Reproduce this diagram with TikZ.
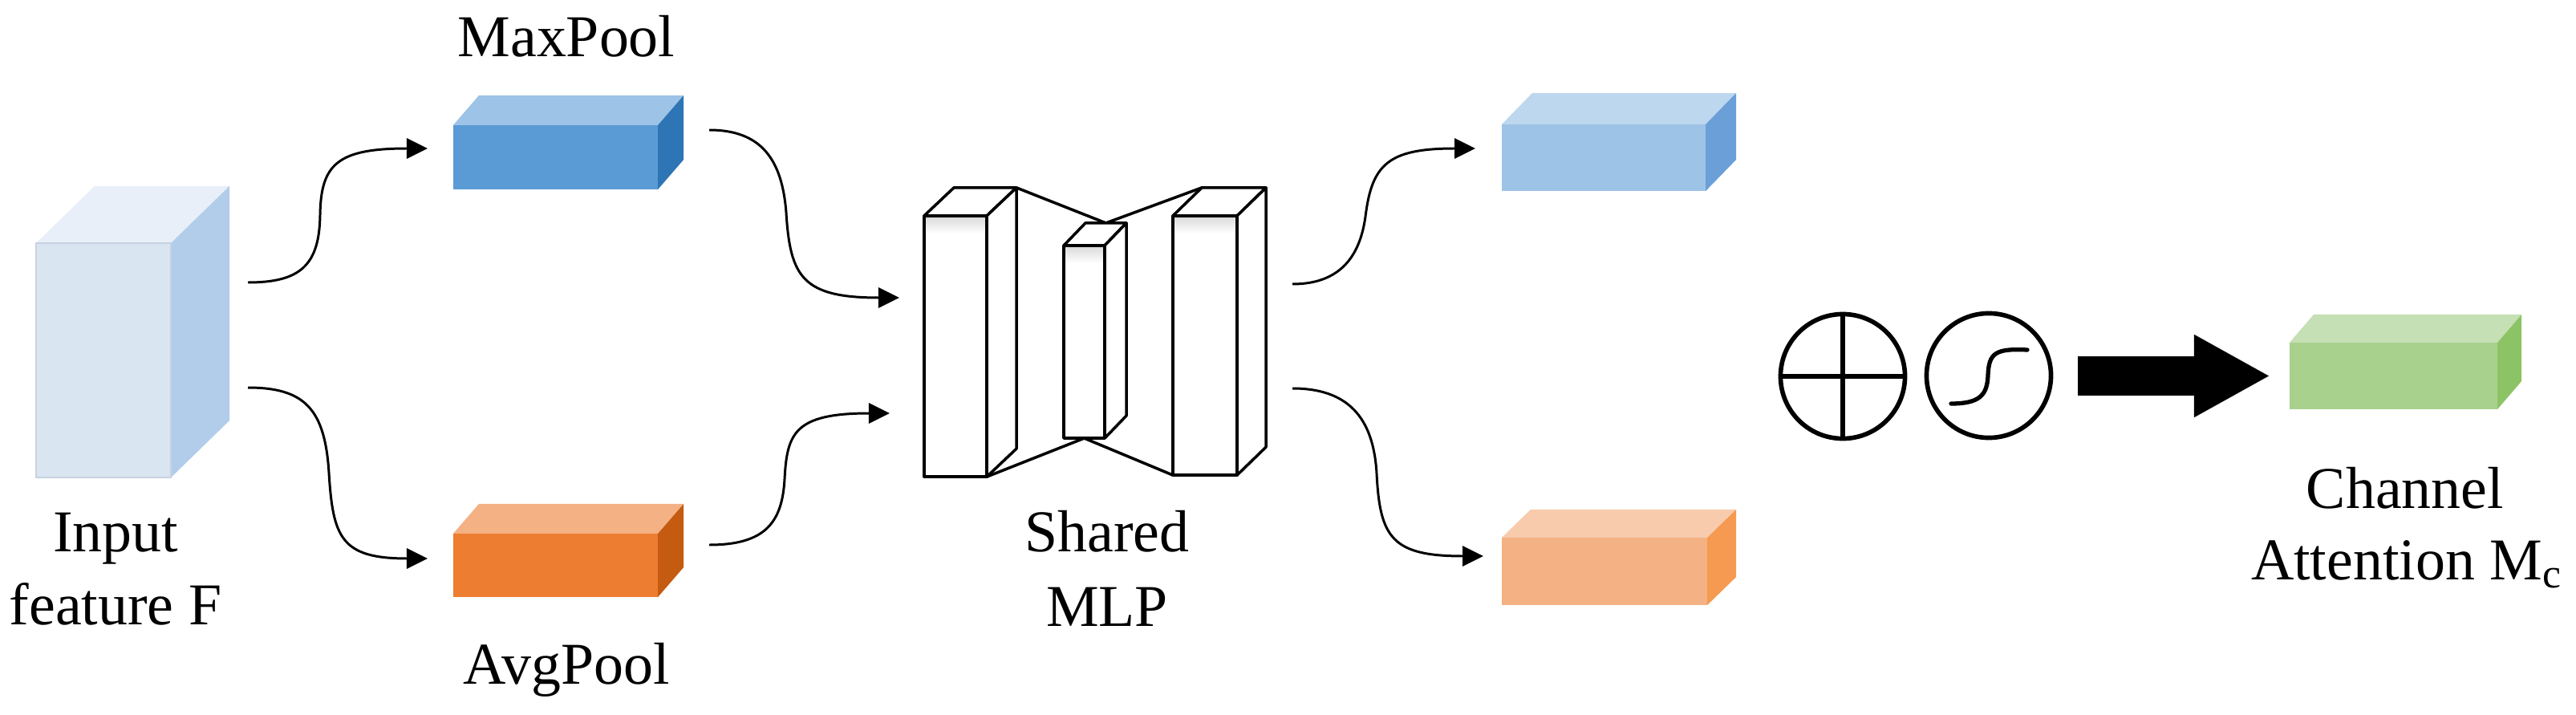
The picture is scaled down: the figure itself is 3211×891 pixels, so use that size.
\documentclass[tikz,border=0pt]{standalone}
\usepackage{fontspec}
\setmainfont{Liberation Serif}
\usetikzlibrary{arrows.meta}
\definecolor{inFront}{HTML}{DAE5F2}
\definecolor{inTop}{HTML}{E8EFF8}
\definecolor{inSide}{HTML}{B1CDE9}
\definecolor{inEdge}{HTML}{C6D2E0}
\definecolor{mpFront}{HTML}{5B9BD5}
\definecolor{mpTop}{HTML}{9DC3E6}
\definecolor{mpSide}{HTML}{2E75B6}
\definecolor{apFront}{HTML}{ED7D31}
\definecolor{apTop}{HTML}{F4B183}
\definecolor{apSide}{HTML}{C55A11}
\definecolor{omFront}{HTML}{9DC3E6}
\definecolor{omTop}{HTML}{BDD7EE}
\definecolor{omSide}{HTML}{6A9FD8}
\definecolor{oaFront}{HTML}{F4B183}
\definecolor{oaTop}{HTML}{F8CBAD}
\definecolor{oaSide}{HTML}{F59A50}
\definecolor{gFront}{HTML}{A9D18E}
\definecolor{gTop}{HTML}{C5E0B4}
\definecolor{gSide}{HTML}{8CC465}
% top and side faces of a cuboid whose front face is node #1
\newcommand\cubefaces[5]{%
  \fill[#4] (#1.north west) -- ++(#2,-#3) -- ([shift={(#2,-#3)}]#1.north east) -- (#1.north east) -- cycle;
  \fill[#5] (#1.north east) -- ++(#2,-#3) -- ([shift={(#2,-#3)}]#1.south east) -- (#1.south east) -- cycle;}
\newcommand\blockfaces[3]{%
  \draw[mlpline,fill=white] (#1.north west) -- ++(#2,-#3) -- ([shift={(#2,-#3)}]#1.north east) -- (#1.north east) -- cycle;
  \draw[mlpline,fill=white] (#1.north east) -- ++(#2,-#3) -- ([shift={(#2,-#3)}]#1.south east) -- (#1.south east) -- cycle;
  \shade[top color=black!14,bottom color=white] ([shift={(2,2)}]#1.north west) rectangle ([shift={(-2,22)}]#1.north east);
  \draw[mlpline] (#1.north west) rectangle (#1.south east);}
\begin{document}
\begin{tikzpicture}[x=0.01cm,y=-0.01cm,
  face/.style={inner sep=0pt,outer sep=0pt,draw=none},
  mlpface/.style={inner sep=0pt,outer sep=0pt,fill=white},
  mlpline/.style={line width=1pt,line join=round},
  conn/.style={line width=0.85pt,-{Triangle[length=0.26cm,width=0.25cm]}},
  lbl/.style={font=\fontsize{21}{26}\selectfont,inner sep=0pt,anchor=base},
  opcircle/.style={circle,draw,line width=1.6pt,minimum size=1.55cm,inner sep=0pt}]
\useasboundingbox (0,0) rectangle (3211,891);
\fill[white] (0,0) rectangle (3211,891);

% input feature
\node[face,fill=inFront,minimum width=1.68cm,minimum height=2.92cm] (input) at (129,449) {};
\cubefaces{input}{73}{71}{inTop}{inSide}
\draw[inEdge,line width=0.6pt] (input.north west) rectangle (input.south east);
\node[lbl] (inlbl1) at (144,687) {Input};
\node[lbl] (inlbl2) at (144,778) {feature F};

% pooled features
\node[face,fill=mpFront,minimum width=2.55cm,minimum height=0.80cm] (maxpool) at (692.5,196) {};
\cubefaces{maxpool}{32}{37}{mpTop}{mpSide}
\node[lbl] (maxlbl) at (706,71) {MaxPool};
\node[face,fill=apFront,minimum width=2.55cm,minimum height=0.79cm] (avgpool) at (692.5,704.5) {};
\cubefaces{avgpool}{32}{37}{apTop}{apSide}
\node[lbl] (avglbl) at (706,852) {AvgPool};

% shared MLP
\node[mlpface,minimum width=0.78cm,minimum height=3.25cm] (b1) at (1191,431.5) {};
\node[mlpface,minimum width=0.51cm,minimum height=2.40cm] (b2) at (1351.5,426) {};
\node[mlpface,minimum width=0.80cm,minimum height=3.23cm] (b3) at (1502,430.5) {};
\draw[mlpline] ([shift={(37,-35)}]b1.north east) -- ([shift={(27,-28)}]b2.north) -- ([shift={(36,-35)}]b3.north west);
\draw[mlpline] (b1.south east) -- (b2.south) -- (b3.south west);
\blockfaces{b1}{37}{35}
\blockfaces{b2}{27}{28}
\blockfaces{b3}{36}{35}
\node[lbl] (mlplbl1) at (1380,687) {Shared};
\node[lbl] (mlplbl2) at (1380,780) {MLP};

% MLP outputs
\node[face,fill=omFront,minimum width=2.54cm,minimum height=0.83cm] (outmax) at (1999,196.5) {};
\cubefaces{outmax}{38}{39}{omTop}{omSide}
\node[face,fill=oaFront,minimum width=2.56cm,minimum height=0.84cm] (outavg) at (2000,712) {};
\cubefaces{outavg}{36}{35}{oaTop}{oaSide}

% connector end points
\coordinate (s1) at (309,352);  \coordinate (e1) at (533,185);
\coordinate (s2) at (309,483);  \coordinate (e2) at (533,696);
\coordinate (s3) at (884,162);  \coordinate (e3) at (1121,371);
\coordinate (s4) at (884,679);  \coordinate (e4) at (1109,515);
\coordinate (s5) at (1611,354); \coordinate (e5) at (1839,185);
\coordinate (s6) at (1611,484); \coordinate (e6) at (1849,693);

\draw[conn] (s1) .. controls (375,352) and (398,330) .. (399,268) .. controls (400,205) and (420,185) .. (e1);
\draw[conn] (s2) .. controls (380,483) and (405,510) .. (410,589) .. controls (415,670) and (425,696) .. (e2);
\draw[conn] (s3) .. controls (950,162) and (975,200) .. (980,265) .. controls (985,345) and (1000,371) .. (e3);
\draw[conn] (s4) .. controls (955,679) and (975,650) .. (978,597) .. controls (981,540) and (990,515) .. (e4);
\draw[conn] (s5) .. controls (1670,354) and (1695,320) .. (1702,270) .. controls (1710,205) and (1730,185) .. (e5);
\draw[conn] (s6) .. controls (1680,484) and (1712,520) .. (1716,590) .. controls (1720,670) and (1735,693) .. (e6);

% add and sigmoid
\node[opcircle] (plus) at (2297,469) {};
\draw[line width=1.5pt] (plus.north) -- (plus.south);
\draw[line width=1.5pt] (plus.west) -- (plus.east);
\node[opcircle] (sig) at (2479,468) {};
\draw[line width=1.5pt,line cap=round] (2432,503) .. controls (2468,503) and (2477,492) .. (2478,468) .. controls (2479,440) and (2487,434) .. (2527,436);

% channel attention
\node[face,fill=gFront,minimum width=2.59cm,minimum height=0.83cm] (att) at (2983.5,468.5) {};
\cubefaces{att}{30}{35}{gTop}{gSide}
\draw[line width=0.49cm,-{Triangle[length=0.95cm,width=0.96cm]}] ([xshift=0.31cm]sig.east |- att.west) -- ([xshift=-0.24cm]att.west);
\node[lbl] (attlbl1) at (2998,633) {Channel};
\node[lbl] (attlbl2) at (3000,722) {Attention M\textsubscript{c}};
\end{tikzpicture}
\end{document}
